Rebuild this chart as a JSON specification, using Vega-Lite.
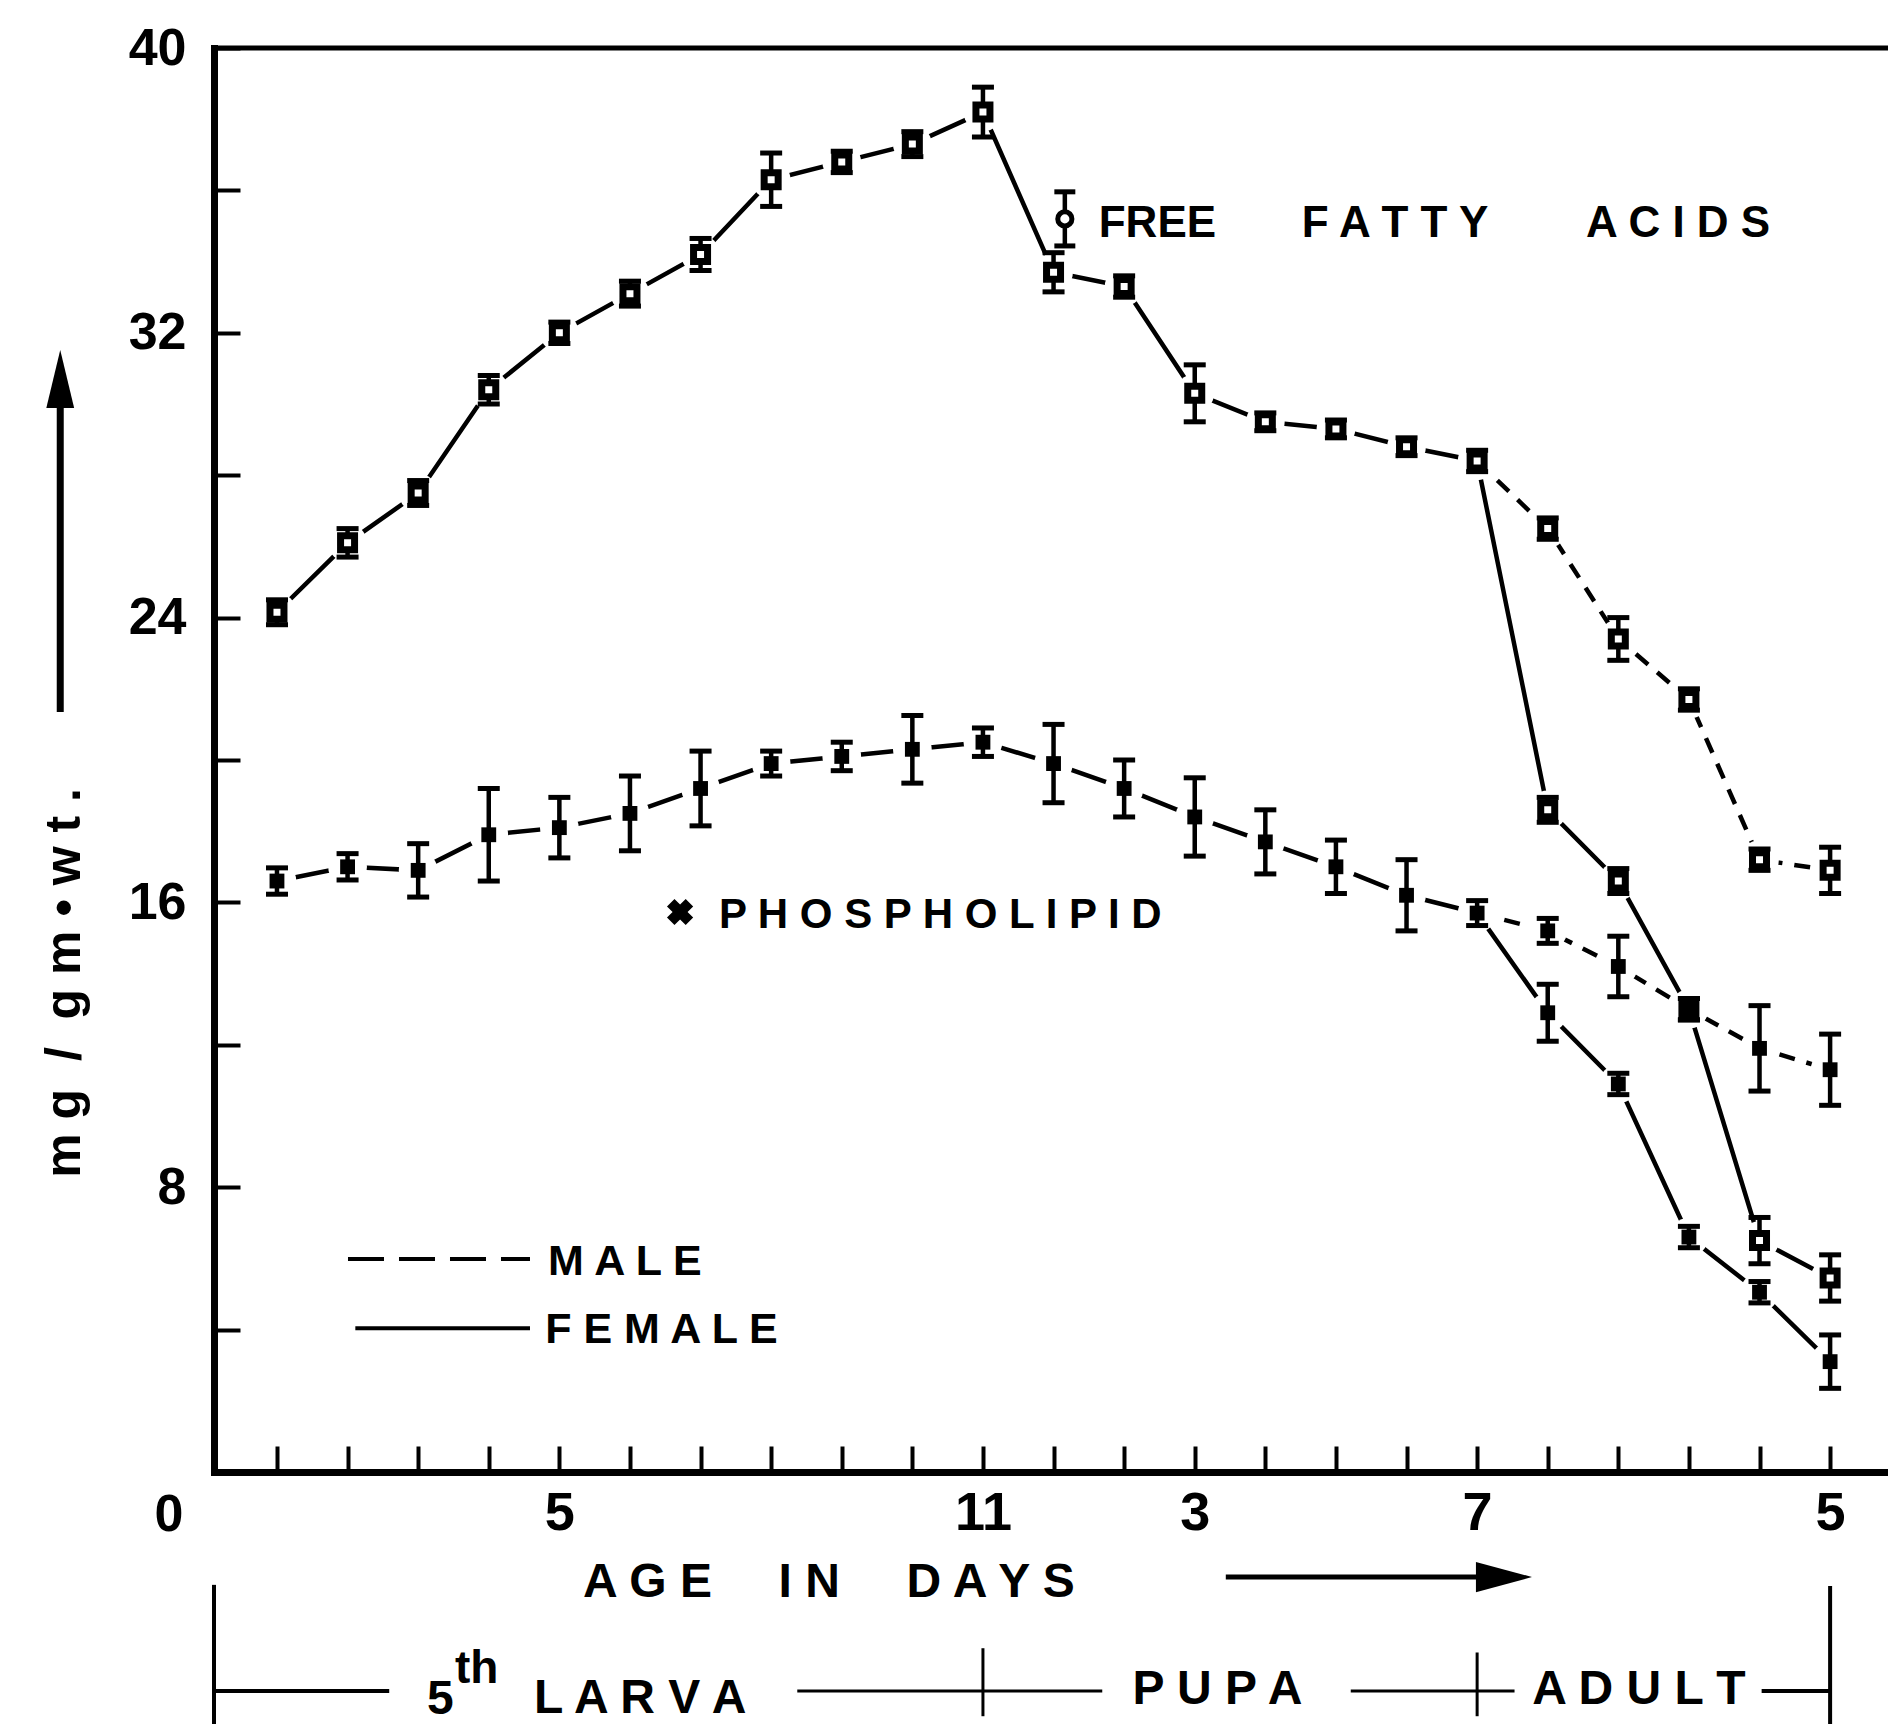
{
  "$schema": "https://vega.github.io/schema/vega-lite/v6.json",
  "width": 1674,
  "height": 1424,
  "autosize": {"type": "none"},
  "padding": {"left": 214, "top": 48, "right": 0, "bottom": 252},
  "background": "white",
  "config": {
    "view": {"stroke": null},
    "text": {"font": "Liberation Sans", "fontWeight": "bold", "color": "black"}
  },
  "datasets": {
    "lipids": [
      {"lipid": "FFA", "sex": "both", "day": 1, "value": 24.15, "err": 0.35},
      {"lipid": "FFA", "sex": "both", "day": 2, "value": 26.1, "err": 0.4},
      {"lipid": "FFA", "sex": "both", "day": 3, "value": 27.5, "err": 0.35},
      {"lipid": "FFA", "sex": "both", "day": 4, "value": 30.4, "err": 0.4},
      {"lipid": "FFA", "sex": "both", "day": 5, "value": 32.0, "err": 0.3},
      {"lipid": "FFA", "sex": "both", "day": 6, "value": 33.1, "err": 0.35},
      {"lipid": "FFA", "sex": "both", "day": 7, "value": 34.2, "err": 0.45},
      {"lipid": "FFA", "sex": "both", "day": 8, "value": 36.3, "err": 0.75},
      {"lipid": "FFA", "sex": "both", "day": 9, "value": 36.8, "err": 0.3},
      {"lipid": "FFA", "sex": "both", "day": 10, "value": 37.3, "err": 0.35},
      {"lipid": "FFA", "sex": "both", "day": 11, "value": 38.2, "err": 0.7},
      {"lipid": "FFA", "sex": "both", "day": 12, "value": 33.7, "err": 0.55},
      {"lipid": "FFA", "sex": "both", "day": 13, "value": 33.3, "err": 0.3},
      {"lipid": "FFA", "sex": "both", "day": 14, "value": 30.3, "err": 0.8},
      {"lipid": "FFA", "sex": "both", "day": 15, "value": 29.5, "err": 0.25},
      {"lipid": "FFA", "sex": "both", "day": 16, "value": 29.3, "err": 0.25},
      {"lipid": "FFA", "sex": "both", "day": 17, "value": 28.8, "err": 0.25},
      {"lipid": "FFA", "sex": "both", "day": 18, "value": 28.4, "err": 0.3},
      {"lipid": "FFA", "sex": "male", "day": 19, "value": 26.5, "err": 0.3},
      {"lipid": "FFA", "sex": "male", "day": 20, "value": 23.4, "err": 0.6},
      {"lipid": "FFA", "sex": "male", "day": 21, "value": 21.7, "err": 0.3},
      {"lipid": "FFA", "sex": "male", "day": 22, "value": 17.2, "err": 0.3},
      {"lipid": "FFA", "sex": "male", "day": 23, "value": 16.9, "err": 0.65},
      {"lipid": "FFA", "sex": "female", "day": 19, "value": 18.6, "err": 0.35},
      {"lipid": "FFA", "sex": "female", "day": 20, "value": 16.6, "err": 0.35},
      {"lipid": "FFA", "sex": "female", "day": 21, "value": 13.0, "err": 0.3},
      {"lipid": "FFA", "sex": "female", "day": 22, "value": 6.5, "err": 0.65},
      {"lipid": "FFA", "sex": "female", "day": 23, "value": 5.45, "err": 0.65},
      {"lipid": "PL", "sex": "both", "day": 1, "value": 16.6, "err": 0.37},
      {"lipid": "PL", "sex": "both", "day": 2, "value": 17.0, "err": 0.37},
      {"lipid": "PL", "sex": "both", "day": 3, "value": 16.9, "err": 0.75},
      {"lipid": "PL", "sex": "both", "day": 4, "value": 17.9, "err": 1.3},
      {"lipid": "PL", "sex": "both", "day": 5, "value": 18.1, "err": 0.85},
      {"lipid": "PL", "sex": "both", "day": 6, "value": 18.5, "err": 1.05},
      {"lipid": "PL", "sex": "both", "day": 7, "value": 19.2, "err": 1.05},
      {"lipid": "PL", "sex": "both", "day": 8, "value": 19.9, "err": 0.35},
      {"lipid": "PL", "sex": "both", "day": 9, "value": 20.1, "err": 0.4},
      {"lipid": "PL", "sex": "both", "day": 10, "value": 20.3, "err": 0.95},
      {"lipid": "PL", "sex": "both", "day": 11, "value": 20.5, "err": 0.4},
      {"lipid": "PL", "sex": "both", "day": 12, "value": 19.9, "err": 1.1},
      {"lipid": "PL", "sex": "both", "day": 13, "value": 19.2, "err": 0.8},
      {"lipid": "PL", "sex": "both", "day": 14, "value": 18.4, "err": 1.1},
      {"lipid": "PL", "sex": "both", "day": 15, "value": 17.7, "err": 0.9},
      {"lipid": "PL", "sex": "both", "day": 16, "value": 17.0, "err": 0.75},
      {"lipid": "PL", "sex": "both", "day": 17, "value": 16.2, "err": 1.0},
      {"lipid": "PL", "sex": "both", "day": 18, "value": 15.7, "err": 0.35},
      {"lipid": "PL", "sex": "male", "day": 19, "value": 15.2, "err": 0.35},
      {"lipid": "PL", "sex": "male", "day": 20, "value": 14.2, "err": 0.85},
      {"lipid": "PL", "sex": "male", "day": 21, "value": 13.0, "err": 0.3},
      {"lipid": "PL", "sex": "male", "day": 22, "value": 11.9, "err": 1.2},
      {"lipid": "PL", "sex": "male", "day": 23, "value": 11.3, "err": 1.0},
      {"lipid": "PL", "sex": "female", "day": 19, "value": 12.9, "err": 0.8},
      {"lipid": "PL", "sex": "female", "day": 20, "value": 10.9, "err": 0.3},
      {"lipid": "PL", "sex": "female", "day": 21, "value": 6.6, "err": 0.3},
      {"lipid": "PL", "sex": "female", "day": 22, "value": 5.05, "err": 0.3},
      {"lipid": "PL", "sex": "female", "day": 23, "value": 3.1, "err": 0.75}
    ]
  },
  "layer": [
    {
      "data": {"name": "lipids"},
      "encoding": {
        "x": {
          "field": "day", "type": "quantitative",
          "scale": {"domain": [0.108, 23.82], "nice": false, "zero": false},
          "axis": {
            "title": null, "grid": false,
            "values": [1,2,3,4,5,6,7,8,9,10,11,12,13,14,15,16,17,18,19,20,21,22,23],
            "domainColor": "black", "domainWidth": 7, "domainCap": "square",
            "tickColor": "black", "tickWidth": 4, "tickSize": -26,
            "labelPadding": 40, "labelFont": "Liberation Sans", "labelFontWeight": "bold",
            "labelFontSize": 54, "labelColor": "black",
            "labelOverlap": false, "labelFlush": false, "labelBound": false,
            "labelExpr": "datum.value == 5 ? '5' : datum.value == 11 ? '11' : datum.value == 14 ? '3' : datum.value == 18 ? '7' : datum.value == 23 ? '5' : ''"
          }
        },
        "y": {
          "field": "value", "type": "quantitative",
          "scale": {"domain": [0, 40], "nice": false, "zero": false},
          "axis": {
            "title": null, "grid": false,
            "values": [0,4,8,12,16,20,24,28,32,36,40],
            "domainColor": "black", "domainWidth": 7, "domainCap": "square",
            "tickColor": "black", "tickWidth": 4, "tickSize": -26,
            "labelPadding": 54, "labelFont": "Liberation Sans", "labelFontWeight": "bold",
            "labelFontSize": 52, "labelColor": "black",
            "labelOverlap": false, "labelBound": false,
            "labelExpr": "datum.value > 0 && datum.value % 8 == 0 ? datum.label : ''"
          }
        }
      },
      "layer": [
        {
          "transform": [{"filter": "datum.lipid == 'FFA' && datum.sex != 'male'"}],
          "mark": {"type": "line", "color": "black", "strokeWidth": 4.5},
          "encoding": {}
        },
        {
          "transform": [{"filter": "datum.lipid == 'PL' && datum.sex != 'male'"}],
          "mark": {"type": "line", "color": "black", "strokeWidth": 4.5},
          "encoding": {}
        },
        {
          "transform": [{"filter": "datum.lipid == 'FFA' && (datum.sex == 'male' || datum.day == 18)"}],
          "mark": {"type": "line", "color": "black", "strokeWidth": 4.5, "strokeDash": [16, 12]},
          "encoding": {}
        },
        {
          "transform": [{"filter": "datum.lipid == 'PL' && (datum.sex == 'male' || datum.day == 18)"}],
          "mark": {"type": "line", "color": "black", "strokeWidth": 4.5, "strokeDash": [16, 12]},
          "encoding": {}
        }
      ]
    },
    {
      "data": {"name": "lipids"},
      "encoding": {
        "x": {"field": "day", "type": "quantitative"},
        "y": {"field": "value", "type": "quantitative"}
      },
      "layer": [
        {
          "mark": {"type": "point", "shape": "circle", "filled": true, "fill": "white", "strokeWidth": 0, "opacity": 1, "fillOpacity": 1, "size": 1500}
        },
        {
          "mark": {"type": "errorbar", "color": "black", "ticks": {"size": 22, "thickness": 5, "color": "black", "opacity": 1}, "rule": {"strokeWidth": 4.5, "color": "black", "opacity": 1}},
          "encoding": {"yError": {"field": "err"}}
        },
        {
          "transform": [{"filter": "datum.lipid == 'FFA'"}],
          "mark": {"type": "point", "shape": "square", "filled": true, "fill": "white", "stroke": "black", "strokeWidth": 7, "size": 196, "opacity": 1}
        },
        {
          "transform": [{"filter": "datum.lipid == 'PL'"}],
          "mark": {"type": "point", "shape": "square", "filled": true, "color": "black", "size": 220, "opacity": 1}
        }
      ]
    },
    {
      "data": {"values": [{}]},
      "mark": {"type": "rule", "color": "black", "strokeWidth": 5},
      "encoding": {"x": {"datum": 0.108}, "x2": {"datum": 23.82}, "y": {"datum": 40}}
    },
    {
      "data": {"values": [{}]},
      "mark": {"type": "text", "text": "m g\u00a0\u00a0/\u00a0\u00a0g m • w t .", "angle": 270, "align": "center", "baseline": "alphabetic", "fontSize": 50, "font": "Liberation Sans", "fontWeight": "bold"},
      "encoding": {"x": {"datum": -1.79}, "y": {"datum": 13.74}}
    },
    {
      "data": {"values": [{}]},
      "mark": {"type": "rule", "color": "black", "strokeWidth": 7},
      "encoding": {"x": {"datum": -2.07}, "y": {"datum": 21.35}, "y2": {"datum": 30.2}}
    },
    {
      "data": {"values": [{}]},
      "mark": {"type": "point", "shape": "M0,-1L0.48,1L-0.48,1Z", "filled": true, "color": "black", "opacity": 1, "size": 3364},
      "encoding": {"x": {"datum": -2.07}, "y": {"datum": 30.7}}
    },
    {
      "data": {"values": [{}]},
      "mark": {"type": "text", "text": "0", "align": "center", "baseline": "middle", "dx": -45, "dy": 43, "fontSize": 52, "font": "Liberation Sans", "fontWeight": "bold"},
      "encoding": {"x": {"datum": 0.108}, "y": {"datum": 0}}
    },
    {
      "data": {"values": [{}]},
      "mark": {"type": "text", "text": "A G E\u00a0\u00a0\u00a0\u00a0\u00a0I N\u00a0\u00a0\u00a0\u00a0\u00a0D A Y S", "align": "left", "baseline": "alphabetic", "fontSize": 48, "font": "Liberation Sans", "fontWeight": "bold"},
      "encoding": {"x": {"datum": 5.335}, "y": {"datum": -3.51}}
    },
    {
      "data": {"values": [{}]},
      "mark": {"type": "rule", "color": "black", "strokeWidth": 5},
      "encoding": {"x": {"datum": 14.44}, "x2": {"datum": 18.05}, "y": {"datum": -2.95}}
    },
    {
      "data": {"values": [{}]},
      "mark": {"type": "point", "shape": "M1,0L-1,-0.54L-1,0.54Z", "filled": true, "color": "black", "opacity": 1, "size": 3136},
      "encoding": {"x": {"datum": 18.38}, "y": {"datum": -2.95}}
    },
    {
      "data": {"values": [{}]},
      "mark": {"type": "rule", "color": "black", "strokeWidth": 4},
      "encoding": {"x": {"datum": 0.108}, "x2": {"datum": 2.59}, "y": {"datum": -6.15}}
    },
    {
      "data": {"values": [{}]},
      "mark": {"type": "rule", "color": "black", "strokeWidth": 3},
      "encoding": {"x": {"datum": 8.37}, "x2": {"datum": 12.69}, "y": {"datum": -6.15}}
    },
    {
      "data": {"values": [{}]},
      "mark": {"type": "rule", "color": "black", "strokeWidth": 3},
      "encoding": {"x": {"datum": 16.21}, "x2": {"datum": 18.53}, "y": {"datum": -6.15}}
    },
    {
      "data": {"values": [{}]},
      "mark": {"type": "rule", "color": "black", "strokeWidth": 4},
      "encoding": {"x": {"datum": 22.03}, "x2": {"datum": 23}, "y": {"datum": -6.15}}
    },
    {
      "data": {"values": [{}]},
      "mark": {"type": "rule", "color": "black", "strokeWidth": 4},
      "encoding": {"x": {"datum": 0.108}, "y": {"datum": -3.17}, "y2": {"datum": -7.2}}
    },
    {
      "data": {"values": [{}]},
      "mark": {"type": "rule", "color": "black", "strokeWidth": 3},
      "encoding": {"x": {"datum": 11}, "y": {"datum": -4.95}, "y2": {"datum": -6.86}}
    },
    {
      "data": {"values": [{}]},
      "mark": {"type": "rule", "color": "black", "strokeWidth": 3},
      "encoding": {"x": {"datum": 18}, "y": {"datum": -5.07}, "y2": {"datum": -6.86}}
    },
    {
      "data": {"values": [{}]},
      "mark": {"type": "rule", "color": "black", "strokeWidth": 4},
      "encoding": {"x": {"datum": 23}, "y": {"datum": -3.2}, "y2": {"datum": -7.2}}
    },
    {
      "data": {"values": [{}]},
      "mark": {"type": "text", "text": "5", "align": "left", "baseline": "alphabetic", "fontSize": 48, "font": "Liberation Sans", "fontWeight": "bold"},
      "encoding": {"x": {"datum": 3.125}, "y": {"datum": -6.8}}
    },
    {
      "data": {"values": [{}]},
      "mark": {"type": "text", "text": "th", "align": "left", "baseline": "alphabetic", "fontSize": 46, "font": "Liberation Sans", "fontWeight": "bold"},
      "encoding": {"x": {"datum": 3.52}, "y": {"datum": -5.93}}
    },
    {
      "data": {"values": [{}]},
      "mark": {"type": "text", "text": "L A R V A", "align": "left", "baseline": "alphabetic", "fontSize": 48, "font": "Liberation Sans", "fontWeight": "bold"},
      "encoding": {"x": {"datum": 4.64}, "y": {"datum": -6.77}}
    },
    {
      "data": {"values": [{}]},
      "mark": {"type": "text", "text": "P U P A", "align": "left", "baseline": "alphabetic", "fontSize": 48, "font": "Liberation Sans", "fontWeight": "bold"},
      "encoding": {"x": {"datum": 13.12}, "y": {"datum": -6.52}}
    },
    {
      "data": {"values": [{}]},
      "mark": {"type": "text", "text": "A D U L T", "align": "left", "baseline": "alphabetic", "fontSize": 48, "font": "Liberation Sans", "fontWeight": "bold"},
      "encoding": {"x": {"datum": 18.78}, "y": {"datum": -6.52}}
    },
    {
      "data": {"values": [{}]},
      "mark": {"type": "rule", "color": "black", "strokeWidth": 4, "strokeDash": [36, 15]},
      "encoding": {"x": {"datum": 2.006}, "x2": {"datum": 4.584}, "y": {"datum": 5.98}}
    },
    {
      "data": {"values": [{}]},
      "mark": {"type": "rule", "color": "black", "strokeWidth": 4},
      "encoding": {"x": {"datum": 2.11}, "x2": {"datum": 4.584}, "y": {"datum": 4.04}}
    },
    {
      "data": {"values": [{}]},
      "mark": {"type": "text", "text": "M A L E", "align": "left", "baseline": "alphabetic", "fontSize": 43, "font": "Liberation Sans", "fontWeight": "bold"},
      "encoding": {"x": {"datum": 4.84}, "y": {"datum": 5.53}}
    },
    {
      "data": {"values": [{}]},
      "mark": {"type": "text", "text": "F E M A L E", "align": "left", "baseline": "alphabetic", "fontSize": 43, "font": "Liberation Sans", "fontWeight": "bold"},
      "encoding": {"x": {"datum": 4.8}, "y": {"datum": 3.62}}
    },
    {
      "data": {"values": [{}]},
      "mark": {"type": "rule", "color": "black", "strokeWidth": 4.5},
      "encoding": {"x": {"datum": 12.16}, "y": {"datum": 34.44}, "y2": {"datum": 35.96}}
    },
    {
      "data": {"values": [{}]},
      "mark": {"type": "point", "shape": "stroke", "color": "black", "strokeWidth": 5, "size": 440, "opacity": 1},
      "encoding": {"x": {"datum": 12.16}, "y": {"datum": 34.44}}
    },
    {
      "data": {"values": [{}]},
      "mark": {"type": "point", "shape": "stroke", "color": "black", "strokeWidth": 5, "size": 440, "opacity": 1},
      "encoding": {"x": {"datum": 12.16}, "y": {"datum": 35.96}}
    },
    {
      "data": {"values": [{}]},
      "mark": {"type": "point", "shape": "circle", "filled": true, "fill": "white", "stroke": "black", "strokeWidth": 5, "size": 200, "opacity": 1},
      "encoding": {"x": {"datum": 12.16}, "y": {"datum": 35.2}}
    },
    {
      "data": {"values": [{}]},
      "mark": {"type": "text", "text": "FREE\u00a0\u00a0\u00a0\u00a0\u00a0\u00a0\u00a0F A T T Y\u00a0\u00a0\u00a0\u00a0\u00a0\u00a0\u00a0\u00a0A C I D S", "align": "left", "baseline": "alphabetic", "fontSize": 44, "font": "Liberation Sans", "fontWeight": "bold"},
      "encoding": {"x": {"datum": 12.64}, "y": {"datum": 34.69}}
    },
    {
      "data": {"values": [{}]},
      "mark": {"type": "point", "shape": "cross", "angle": 45, "filled": true, "color": "black", "size": 700, "opacity": 1},
      "encoding": {"x": {"datum": 6.71}, "y": {"datum": 15.73}}
    },
    {
      "data": {"values": [{}]},
      "mark": {"type": "text", "text": "P H O S P H O L I P I D", "align": "left", "baseline": "alphabetic", "fontSize": 42, "font": "Liberation Sans", "fontWeight": "bold"},
      "encoding": {"x": {"datum": 7.26}, "y": {"datum": 15.28}}
    }
  ]
}
